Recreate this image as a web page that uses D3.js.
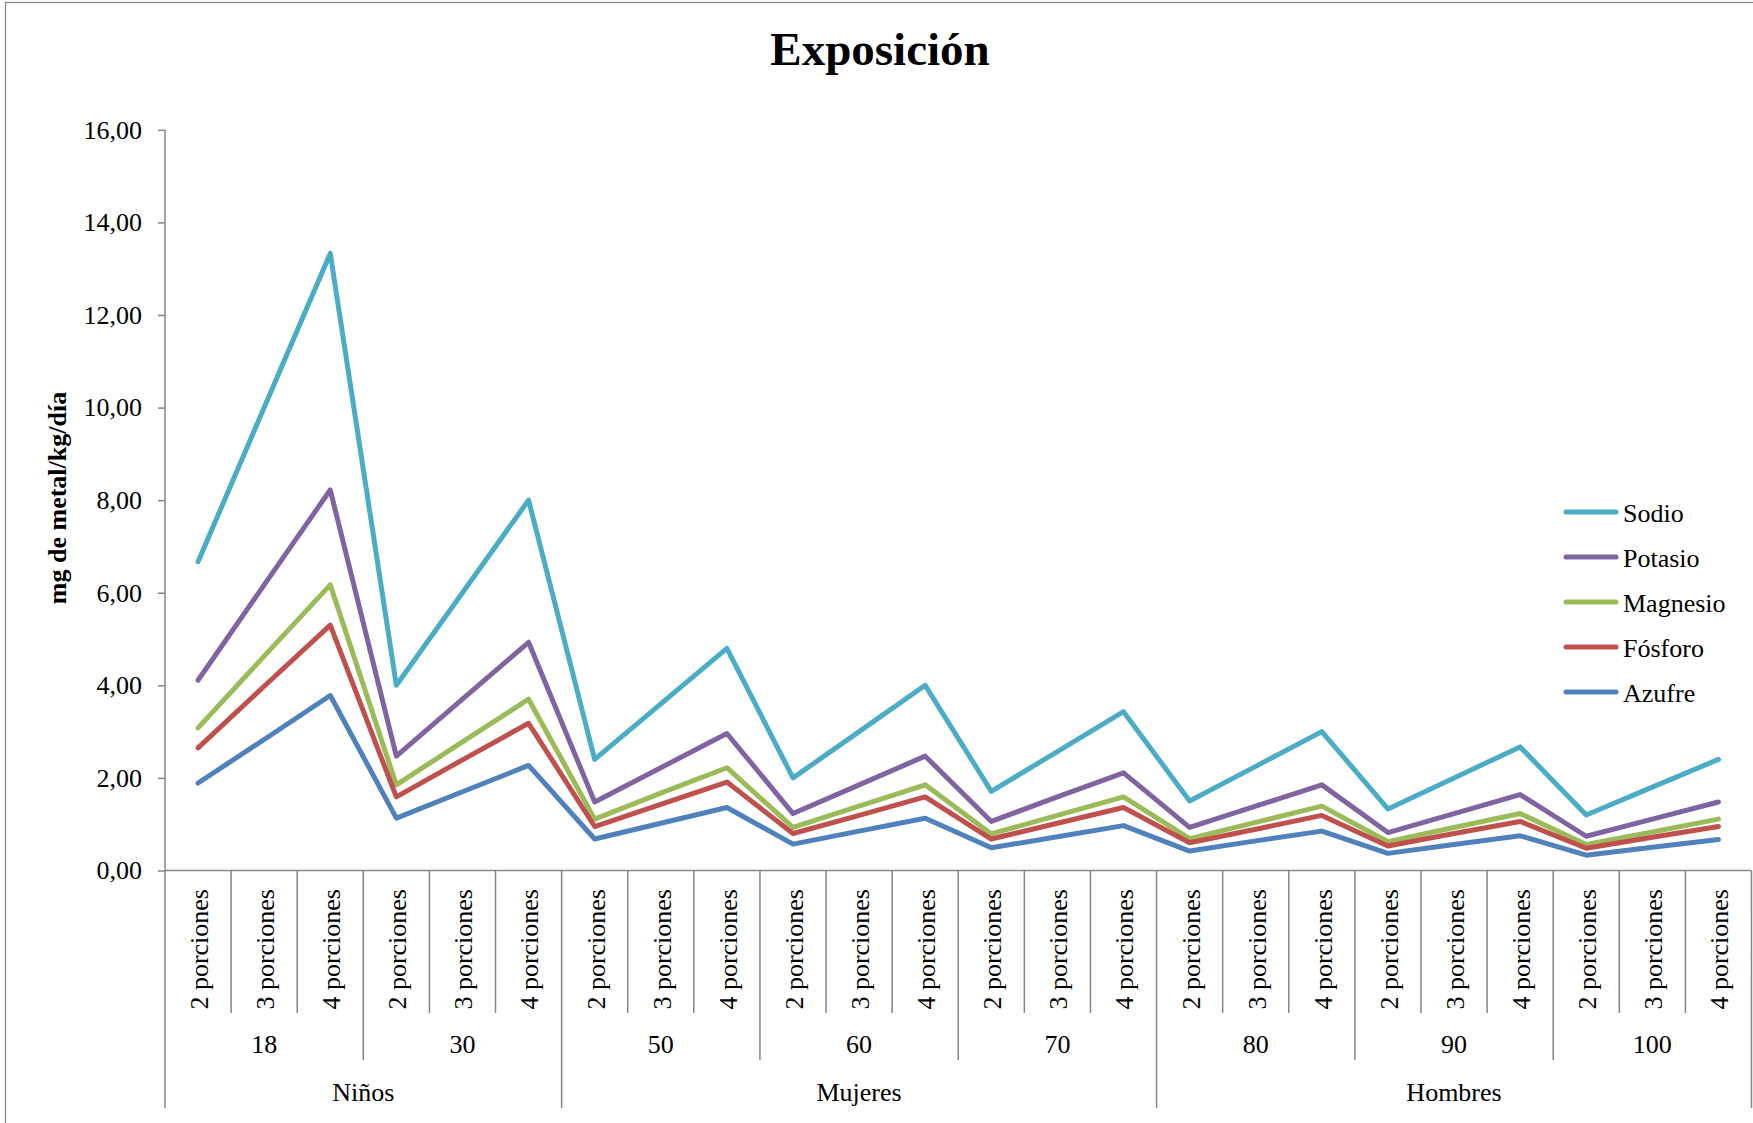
<!DOCTYPE html>
<html>
<head>
<meta charset="utf-8">
<script src="https://cdn.jsdelivr.net/npm/d3@7"></script>
<style>
  html, body { margin: 0; padding: 0; background: #fff; }
  svg { display: block; }
  text { font-family: "Liberation Serif", "Times New Roman", serif; fill: #000; }
</style>
</head>
<body>
<svg id="chart" width="1753" height="1123"></svg>
<script>
// ---------- data ----------
const porciones = ["2 porciones", "3 porciones", "4 porciones"];
const groups = ["18", "30", "50", "60", "70", "80", "90", "100"];
const topLabels = ["Niños", "Mujeres", "Hombres"];
const topSpans = [2, 3, 3]; // number of groups under each top label

const seriesNames = ["Sodio", "Potasio", "Magnesio", "Fósforo", "Azufre"];
const seriesColors = ["#4BACC6", "#8064A2", "#9BBB59", "#C0504D", "#4F81BD"];

const sodio    = [6.67,10.00,13.33, 4.00,6.00,8.00, 2.40,3.60,4.80, 2.00,3.00,4.00, 1.71,2.57,3.43, 1.50,2.25,3.00, 1.33,2.00,2.67, 1.20,1.80,2.40];
const potasio  = [4.11,6.17,8.22, 2.47,3.70,4.93, 1.48,2.22,2.96, 1.23,1.85,2.47, 1.06,1.59,2.11, 0.93,1.39,1.85, 0.82,1.23,1.64, 0.74,1.11,1.48];
const magnesio = [3.08,4.63,6.17, 1.85,2.78,3.70, 1.11,1.67,2.22, 0.93,1.39,1.85, 0.79,1.19,1.59, 0.69,1.04,1.39, 0.62,0.93,1.23, 0.56,0.83,1.11];
const fosforo  = [2.65,3.98,5.30, 1.59,2.39,3.18, 0.95,1.43,1.91, 0.80,1.19,1.59, 0.68,1.02,1.36, 0.60,0.89,1.19, 0.53,0.80,1.06, 0.48,0.72,0.95];
const azufre   = [1.89,2.83,3.78, 1.13,1.70,2.27, 0.68,1.02,1.36, 0.57,0.85,1.13, 0.49,0.73,0.97, 0.42,0.64,0.85, 0.37,0.56,0.75, 0.33,0.50,0.67];

const yTicks = [0, 2, 4, 6, 8, 10, 12, 14, 16];
const title = "Exposición";
const yTitle = "mg de metal/kg/día";

// ---------- build ----------
const seriesValues = [sodio, potasio, magnesio, fosforo, azufre];
const nCat = groups.length * porciones.length;
const cats = d3.range(nCat);

const svg = d3.select("#chart");
const axisColor = "#868686";
const fontSize = 26;
const serif = '"Liberation Serif", "Times New Roman", serif';

// chart border
svg.append("rect")
  .attr("x", 5.5).attr("y", 2.5)
  .attr("width", 1800).attr("height", 1200)
  .attr("fill", "none").attr("stroke", axisColor).attr("stroke-width", 1.2);

const plotLeft = 165, plotRight = 1751.5, plotTop = 129.8, plotBottom = 870.5;

const x = d3.scaleBand().domain(cats).range([plotLeft, plotRight]).padding(0);
const y = d3.scaleLinear().domain([0, 16]).range([plotBottom, plotTop]);

const locale = d3.formatLocale({ decimal: ",", thousands: ".", grouping: [3], currency: ["", ""] });
const fmt = locale.format(".2f");

// title
svg.append("text")
  .attr("x", 880).attr("y", 65)
  .attr("text-anchor", "middle")
  .style("font-family", serif)
  .style("font-size", "47px").style("font-weight", "bold")
  .text(title);

// y axis
const yAxis = svg.append("g")
  .attr("transform", `translate(${plotLeft},0)`)
  .call(d3.axisLeft(y).tickValues(yTicks).tickFormat(fmt).tickSize(7).tickPadding(16));
yAxis.select(".domain").attr("stroke", axisColor).attr("stroke-width", 1.5)
  .attr("d", `M0,${y(16)}V${y(0)}`);
yAxis.selectAll(".tick line").attr("stroke", axisColor).attr("stroke-width", 1.5);
yAxis.selectAll(".tick text")
  .style("font-size", fontSize + "px")
  .style("font-family", serif)
  .attr("fill", "#000");

// y title
svg.append("text")
  .attr("transform", `translate(66,498) rotate(-90)`)
  .attr("text-anchor", "middle")
  .style("font-family", serif)
  .style("font-size", fontSize + "px").style("font-weight", "bold")
  .text(yTitle);

// x axis line
svg.append("line")
  .attr("x1", plotLeft).attr("x2", plotRight)
  .attr("y1", plotBottom).attr("y2", plotBottom)
  .attr("stroke", axisColor).attr("stroke-width", 1.5);

// separators (multi-level category axis)
const topBounds = [0];
topSpans.forEach(s => topBounds.push(topBounds[topBounds.length - 1] + s * porciones.length));
const sepG = svg.append("g");
d3.range(nCat + 1).forEach(i => {
  let y2 = 1013;
  if (i % porciones.length === 0) y2 = 1060;
  if (topBounds.includes(i)) y2 = 1108;
  const xp = i < nCat ? x(i) : plotRight;
  sepG.append("line")
    .attr("x1", xp).attr("x2", xp)
    .attr("y1", plotBottom).attr("y2", y2)
    .attr("stroke", axisColor).attr("stroke-width", 1.5);
});

// porciones labels
svg.append("g").selectAll("text")
  .data(cats)
  .join("text")
  .attr("transform", d => `translate(${x(d) + x.bandwidth() / 2},889) rotate(-90)`)
  .attr("text-anchor", "end")
  .attr("dy", "0.38em")
  .style("font-family", serif)
  .style("font-size", fontSize + "px")
  .text(d => porciones[d % porciones.length]);

// group labels
svg.append("g").selectAll("text")
  .data(groups)
  .join("text")
  .attr("x", (d, i) => (x(i * 3) + (i * 3 + 3 < nCat ? x(i * 3 + 3) : plotRight)) / 2)
  .attr("y", 1053)
  .attr("text-anchor", "middle")
  .style("font-family", serif)
  .style("font-size", fontSize + "px")
  .text(d => d);

// top labels
svg.append("g").selectAll("text")
  .data(topLabels)
  .join("text")
  .attr("x", (d, i) => {
    const a = x(topBounds[i]);
    const b = topBounds[i + 1] < nCat ? x(topBounds[i + 1]) : plotRight;
    return (a + b) / 2;
  })
  .attr("y", 1101)
  .attr("text-anchor", "middle")
  .style("font-family", serif)
  .style("font-size", fontSize + "px")
  .text(d => d);

// lines
const line = d3.line()
  .x((d, i) => x(i) + x.bandwidth() / 2)
  .y(d => y(d));

svg.append("g").selectAll("path")
  .data(seriesValues)
  .join("path")
  .attr("d", d => line(d))
  .attr("fill", "none")
  .attr("stroke", (d, i) => seriesColors[i])
  .attr("stroke-width", 5)
  .attr("stroke-linejoin", "round")
  .attr("stroke-linecap", "round");

// legend
const lg = svg.append("g");
seriesNames.forEach((name, i) => {
  const ly = 512 + i * 45;
  lg.append("line")
    .attr("x1", 1566).attr("x2", 1616)
    .attr("y1", ly).attr("y2", ly)
    .attr("stroke", seriesColors[i]).attr("stroke-width", 5)
    .attr("stroke-linecap", "round");
  lg.append("text")
    .attr("x", 1623).attr("y", ly)
    .attr("dy", "0.37em")
    .style("font-family", serif)
    .style("font-size", fontSize + "px")
    .text(name);
});
</script>
</body>
</html>
